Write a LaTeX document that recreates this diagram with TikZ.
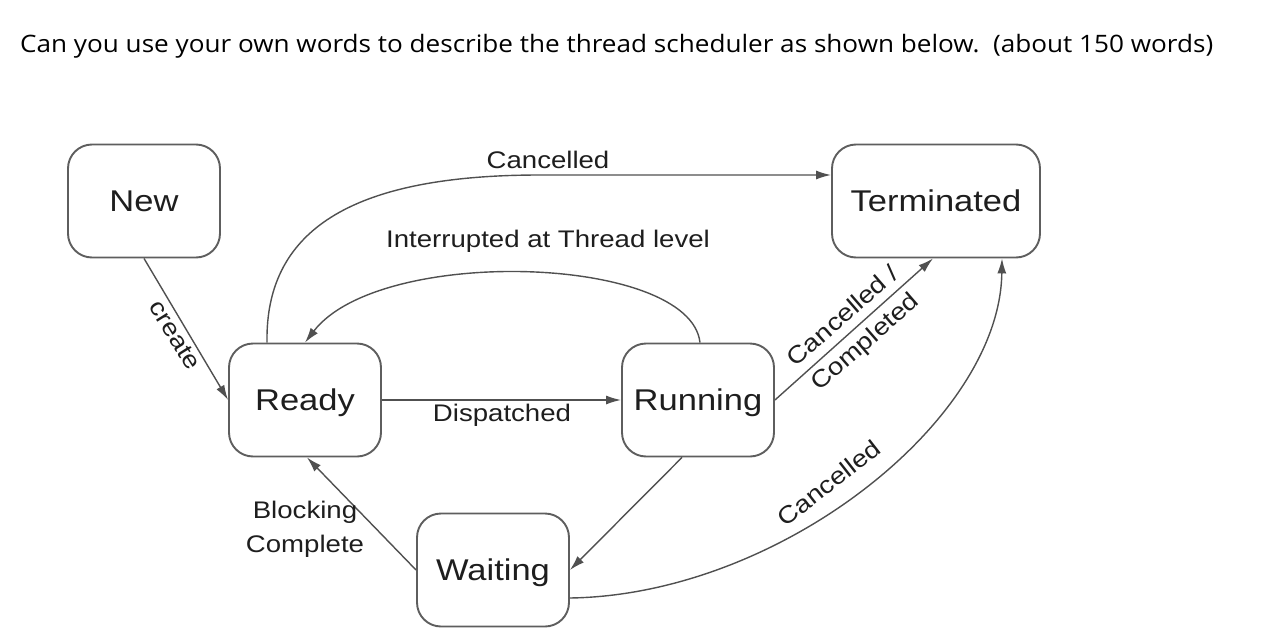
\documentclass[tikz,border=0pt]{standalone}
\usepackage{fontspec}
\setmainfont{Open Sans}
\newfontfamily\titlefont[FakeStretch=1.088]{Open Sans}
\newfontfamily\diagfont[FakeStretch=1.15]{Liberation Sans}
\usetikzlibrary{arrows.meta}
\definecolor{edgecol}{HTML}{505050}
\definecolor{boxcol}{HTML}{5E5E5E}
\definecolor{txtcol}{HTML}{1E1E1E}
\begin{document}
\begin{tikzpicture}[x=1pt,y=-1pt,
  statebox/.style={draw=boxcol, line width=1.9pt, rounded corners=24pt, fill=white,
    minimum width=152pt, minimum height=113pt, inner sep=0pt,
    font=\diagfont\fontsize{30}{34}\selectfont, text=txtcol,
    text height=21.5pt, text depth=0pt},
  conn/.style={draw=edgecol, line width=1.4pt, -{Latex[length=15pt,width=9pt]}},
  lbl/.style={font=\diagfont\fontsize{24}{34}\selectfont, text=txtcol, inner sep=0pt, align=center}]
\useasboundingbox (0,0) rectangle (1278,640);
\fill[white] (0,0) rectangle (1278,640);
% title
\node[anchor=west, font=\titlefont\fontsize{24}{28}\selectfont, inner sep=0pt] (title) at (20,46)
  {Can you use your own words to describe the thread scheduler as shown below.\ \ (about 150 words)};
% states
\node[statebox] (new) at (144,201) {New};
\node[statebox, minimum width=208pt] (term) at (936,201) {Terminated};
\node[statebox] (ready) at (305,400) {Ready};
\node[statebox] (run) at (698,400) {Running};
\node[statebox] (wait) at (493,570) {Waiting};
% connectors
\draw[conn] (new.south) -- (ready.west);
\draw[conn] (ready.east) -- (run.west);
\draw[conn] ([xshift=2pt]run.north) .. controls (690,255) and (380,245) .. (ready.north);
\draw[conn] ([xshift=-38pt]ready.north) .. controls (265,225) and (360,175) .. (540,175) -- ([yshift=26pt]term.west);
\draw[conn] (run.east) -- ([xshift=-3pt]term.south);
\draw[conn] ([xshift=-16pt]run.south) -- (wait.east);
\draw[conn] (wait.west) -- ([xshift=2pt]ready.south);
\draw[conn] ([yshift=-28pt]wait.east) .. controls (780,595) and (1000,420) .. ([xshift=66pt]term.south);
% labels
\node[lbl, rotate=-58] (lcreate) at (175,335) {create};
\node[lbl] (ldisp) at (502,415) {Dispatched};
\node[lbl] (lint) at (548,241) {Interrupted at Thread level};
\node[lbl] (lcanc1) at (548,160) {Cancelled};
\node[lbl, rotate=41] (lcc) at (855,330) {Cancelled /\\Completed};
\node[lbl, rotate=38] (lcanc2) at (829,483) {Cancelled};
\node[lbl] (lblock) at (305,529) {Blocking\\Complete};
\end{tikzpicture}
\end{document}
